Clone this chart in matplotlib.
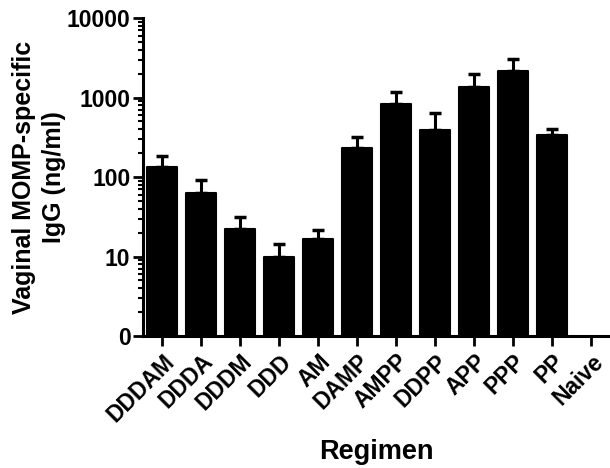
import matplotlib
matplotlib.use("Agg")
import matplotlib.pyplot as plt
import numpy as np
from matplotlib.ticker import FixedLocator, FixedFormatter, LogLocator, NullFormatter

categories = ["DDDAM", "DDDA", "DDDM", "DDD", "AM", "DAMP", "AMPP", "DDPP",
              "APP", "PPP", "PP", "Naive"]
means = [132, 63, 22, 10, 16.8, 234, 821, 394, 1343, 2154, 338, np.nan]
upper = [184, 92, 31.4, 14.5, 21.3, 318, 1162, 632, 1976, 3050, 398, np.nan]
ytick_vals = [1, 10, 100, 1000, 10000]
ytick_labels = ["0", "10", "100", "1000", "10000"]

plt.rcParams['font.family'] = ['Liberation Sans', 'DejaVu Sans']
plt.rcParams['font.weight'] = 'bold'

fig = plt.figure(figsize=(6.1, 4.68), dpi=100)
ax = fig.add_axes([0.2344, 0.282, 0.764, 0.6795])

x = np.arange(len(categories))
m = np.array(means, dtype=float)
u = np.array(upper, dtype=float)
err = np.vstack([np.zeros_like(m), u - m])

ax.bar(x, m, width=0.77, color='black', edgecolor='black', linewidth=1.5,
       joinstyle='round', zorder=2)
ax.errorbar(x, m, yerr=err, fmt='none', ecolor='black', elinewidth=2.2,
            capsize=4.5, capthick=2.5, zorder=1)

ax.set_yscale('log')
ax.set_ylim(1, 10000)
ax.set_xlim(-0.5, 11.45)

ax.yaxis.set_major_locator(FixedLocator(ytick_vals))
ax.yaxis.set_major_formatter(FixedFormatter(ytick_labels))
ax.yaxis.set_minor_locator(LogLocator(base=10, subs=np.arange(2, 10)))
ax.yaxis.set_minor_formatter(NullFormatter())

ax.set_xticks(x)
ax.set_xticklabels(categories, rotation=45, ha='right', rotation_mode='anchor',
                   fontsize=16.5, fontweight='bold')
ax.tick_params(axis='y', which='major', length=7, width=2, labelsize=16.5, pad=2)
ax.tick_params(axis='y', which='minor', length=3.5, width=1.5)
ax.tick_params(axis='x', which='major', length=7, width=2, pad=3)

for s in ['top', 'right']:
    ax.spines[s].set_visible(False)
for s in ['left', 'bottom']:
    ax.spines[s].set_linewidth(2.2)

ax.set_ylabel("Vaginal MOMP-specific\nIgG (ng/ml)", fontsize=18, fontweight='bold',
              labelpad=6, linespacing=1.3)
ax.yaxis.set_label_coords(-0.165, 0.5)
fig.text(376 / 610, 1 - 452 / 468, "Regimen", fontsize=19.5, fontweight='bold',
         ha='center', va='center')

fig.savefig("out.png", dpi=100)
